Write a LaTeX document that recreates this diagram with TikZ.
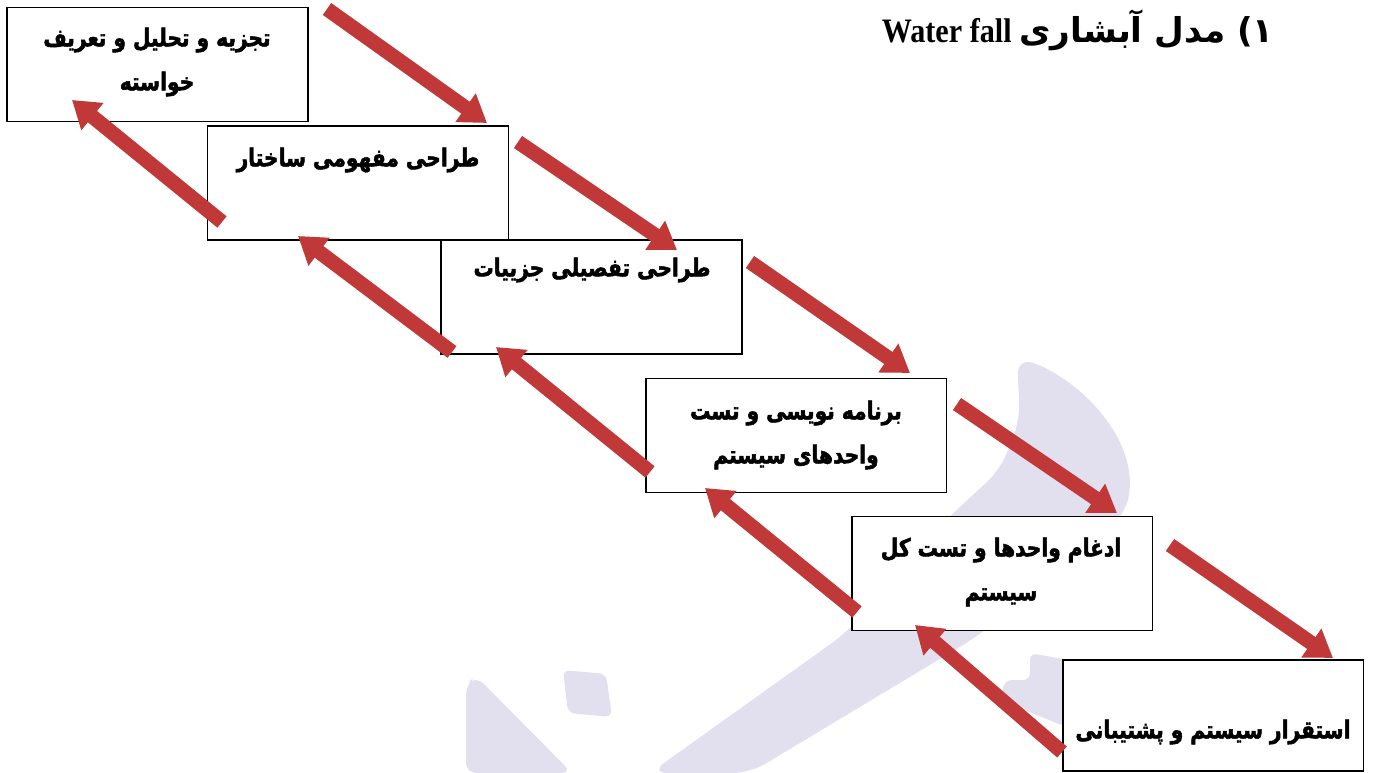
\documentclass[tikz,border=0pt]{standalone}
\usepackage{fontspec}
\setmainfont[FakeStretch=0.88]{Liberation Serif}
\newfontfamily\fafont[Script=Arabic, FakeStretch=0.82, BoldFeatures={FakeBold=2}]{DejaVu Sans}
\newfontfamily\fatitle[Script=Arabic]{DejaVu Sans}
\TeXXeTstate=1
\usetikzlibrary{arrows.meta, positioning, calc}
\definecolor{WFRed}{RGB}{192,56,56}
\definecolor{WFMark}{RGB}{226,223,238}
\newcommand{\rtl}[1]{\beginR #1\endR}

\begin{document}
\begin{tikzpicture}[x=0.02cm, y=-0.02cm,
    stage/.style={rectangle, draw=black, line width=1.1pt, fill=white,
                  minimum width=6.02cm, minimum height=2.28cm, inner sep=0pt},
    lbl/.style={font=\fafont\bfseries\fontsize{14}{25}\selectfont, align=center},
    fwd/.style={-{Triangle[width=19pt, length=15pt]}, line width=8.3pt, WFRed},
    bwd/.style={fwd}
  ]
  \useasboundingbox (0,0) rectangle (1376,773);

  % watermark
  \fill[WFMark, rounded corners=6pt] (466,684) -- (476,676) -- (572,773) -- (466,773) -- cycle;
  \fill[WFMark, rounded corners=4pt] (563,670) -- (606,674) -- (612,717) -- (568,713) -- cycle;
  \fill[WFMark, rounded corners=10pt] (650,773) -- (750,773) -- (978,636) -- (1125,515)
        .. controls (1140,440) and (1080,380) .. (1017,357) -- (1020,420)
        -- (1000,470) -- (950,516) -- (846,633) -- cycle;
  \fill[WFMark, rounded corners=4pt] (1030,653) -- (1068,660) -- (1066,727)
        -- (1000,700) -- (1005,680) -- (1030,680) -- cycle;

  % title
  \node[anchor=base east, font=\bfseries\fontsize{19.5}{24}\selectfont] (title) at (1280,43)
        {Water fall {\fatitle\rtl{۱) مدل آبشاری}}};

  % stages
  \node[stage] (req)    at (157.5,64.5) {};
  \node[stage] (concept) at (358,183) {};
  \node[stage] (detail) at (591.5,297) {};
  \node[stage] (code)   at (796,435.5) {};
  \node[stage] (integ)  at (1002,573.5) {};
  \node[stage, minimum height=2.22cm] (deploy) at (1213,715.5) {};

  \node[lbl] (reqT)    at (157,62)  {\rtl{تجزیه و تحلیل و تعریف}\\\rtl{خواسته}};
  \node[lbl] (conceptT) at (358,160) {\rtl{طراحی مفهومی ساختار}};
  \node[lbl] (detailT) at (592,270) {\rtl{طراحی تفصیلی جزییات}};
  \node[lbl] (codeT)   at (796,435) {\rtl{برنامه نویسی و تست}\\\rtl{واحدهای سیستم}};
  \node[lbl] (integT)  at (1001,572) {\rtl{ادغام واحدها و تست کل}\\\rtl{سیستم}};
  \node[lbl] (deployT) at (1213,732) {\rtl{استقرار سیستم و پشتیبانی}};

  % arrow ends
  \coordinate (f1a) at (327,9);    \coordinate (f1b) at (487,123);
  \coordinate (f2a) at (518,142);  \coordinate (f2b) at (677,250);
  \coordinate (f3a) at (750,262);  \coordinate (f3b) at (910,373);
  \coordinate (f4a) at (957,404);  \coordinate (f4b) at (1117,513);
  \coordinate (f5a) at (1170,545); \coordinate (f5b) at (1333,658);
  \coordinate (b1a) at (222,222);  \coordinate (b1b) at (72,100);
  \coordinate (b2a) at (452,352);  \coordinate (b2b) at (298,236);
  \coordinate (b3a) at (650,472);  \coordinate (b3b) at (496,347);
  \coordinate (b4a) at (857,612);  \coordinate (b4b) at (705,488);
  \coordinate (b5a) at (1062,752); \coordinate (b5b) at (915,625);

  % forward flow
  \draw[fwd] (f1a) -- (f1b);
  \draw[fwd] (f2a) -- (f2b);
  \draw[fwd] (f3a) -- (f3b);
  \draw[fwd] (f4a) -- (f4b);
  \draw[fwd] (f5a) -- (f5b);

  % feedback
  \draw[bwd] (b1a) -- (b1b);
  \draw[bwd] (b2a) -- (b2b);
  \draw[bwd] (b3a) -- (b3b);
  \draw[bwd] (b4a) -- (b4b);
  \draw[bwd] (b5a) -- (b5b);
\end{tikzpicture}
\end{document}
